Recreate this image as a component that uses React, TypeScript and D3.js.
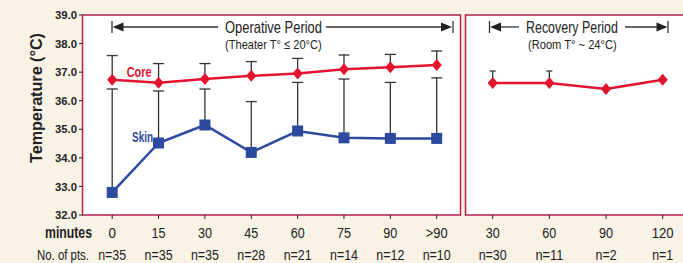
import React from "react";
import * as d3 from "d3";

const operMinutes = ["0", "15", "30", "45", "60", "75", "90", ">90"];
const operN = ["n=35", "n=35", "n=35", "n=28", "n=21", "n=14", "n=12", "n=10"];
const coreOper = [36.73, 36.63, 36.76, 36.87, 36.95, 37.1, 37.17, 37.25];
const coreOperUpper = [37.58, 37.3, 37.3, 37.37, 37.48, 37.6, 37.62, 37.74];
const skinOper = [32.79, 34.52, 35.15, 34.19, 34.94, 34.7, 34.68, 34.68];
const skinOperUpper = [36.41, 36.34, 36.41, 35.97, 36.64, 36.76, 36.64, 36.8];

const recMinutes = ["30", "60", "90", "120"];
const recN = ["n=30", "n=11", "n=2", "n=1"];
const coreRec = [36.62, 36.62, 36.41, 36.73];
const coreRecUpper: (number | null)[] = [37.04, 37.04, null, null];

const yTicks = [32, 33, 34, 35, 36, 37, 38, 39];

const BG = "#f9f3e6";
const RED = "#e2142f";
const BLUE = "#2c4a9e";
const BORDER = "#b3214a";
const DARK = "#222";
const FONT_NAME = "Liberation Sans";
const FONT = "'Liberation Sans', Arial, sans-serif";

let measureCtx: CanvasRenderingContext2D | null = null;
function measure(s: string, size: number, weight: string) {
  if (!measureCtx) {
    const c = document.createElement("canvas");
    measureCtx = c.getContext("2d");
  }
  if (!measureCtx) return s.length * size * 0.55;
  measureCtx.font = `${weight} ${size}px '${FONT_NAME}'`;
  return measureCtx.measureText(s).width;
}

// condensed text: horizontally scaled to a given width
function T(props: any) {
  const { w, x, y, children, fontSize, fontWeight = "normal", ...rest } = props;
  const nat = measure(String(children), fontSize, fontWeight);
  const sx = nat > 0 ? w / nat : 1;
  return (
    <text
      {...rest}
      transform={`translate(${x},${y}) scale(${sx},1)`}
      fontSize={fontSize}
      fontWeight={fontWeight}
    >
      {children}
    </text>
  );
}

export default function App() {
  const y = d3.scaleLinear().domain([32, 39]).range([215, 15]);
  const xo = d3.scalePoint<string>().domain(operMinutes).range([112.2, 436.7]);
  const xr = d3.scalePoint<string>().domain(recMinutes).range([492.7, 662.7]);

  const line = d3.line<[number, number]>().x((d) => d[0]).y((d) => d[1]);
  const corePts = operMinutes.map((m, i) => [xo(m)!, y(coreOper[i])] as [number, number]);
  const skinPts = operMinutes.map((m, i) => [xo(m)!, y(skinOper[i])] as [number, number]);
  const recPts = recMinutes.map((m, i) => [xr(m)!, y(coreRec[i])] as [number, number]);

  const diamond = (cx: number, cy: number, r = 6) =>
    `M${cx},${cy - r}L${cx + r * 0.85},${cy}L${cx},${cy + r}L${cx - r * 0.85},${cy}Z`;

  const arrowHeadLeft = (x: number, yy: number) => `M${x},${yy}L${x + 11},${yy - 4.5}L${x + 11},${yy + 4.5}Z`;
  const arrowHeadRight = (x: number, yy: number) => `M${x},${yy}L${x - 11},${yy - 4.5}L${x - 11},${yy + 4.5}Z`;

  const nW = (s: string) => (s.length === 4 ? 28 : 21);
  const mW = (s: string) => (s.length === 1 ? 7.5 : s.length === 2 ? 14 : 22);

  return (
    <svg
      width={683}
      height={263}
      style={{ position: "absolute", left: 0, top: 0, background: BG }}
      fontFamily={FONT}
    >
      <rect x={0} y={0} width={683} height={263} fill={BG} />
      {/* panels */}
      <rect x={82.5} y={15} width={378} height={200} fill="#fff" stroke={BORDER} strokeWidth={1.5} />
      <rect x={465.5} y={15} width={240} height={200} fill="#fff" stroke={BORDER} strokeWidth={1.5} />

      {/* y axis ticks */}
      {yTicks.map((t) => (
        <g key={t}>
          <line x1={79} x2={82.5} y1={y(t)} y2={y(t)} stroke={DARK} strokeWidth={1} />
          <T x={77} y={y(t) + 4.1} textAnchor="end" fontSize={11.5} fontWeight="bold" fill={DARK} w={22}>
            {t.toFixed(1)}
          </T>
        </g>
      ))}
      <text
        transform={`translate(41.5,98) rotate(-90)`}
        textAnchor="middle"
        fontSize={17}
        fontWeight="bold"
        fill={DARK}
        textLength={130}
        lengthAdjust="spacingAndGlyphs"
      >
        Temperature (°C)
      </text>

      {/* x ticks and labels */}
      {operMinutes.map((m, i) => (
        <g key={m}>
          <line x1={xo(m)} x2={xo(m)} y1={215} y2={219} stroke={DARK} strokeWidth={1} />
          <T x={xo(m)} y={237.5} textAnchor="middle" fontSize={15.5} fill={DARK} w={mW(m)}>
            {m}
          </T>
          <T x={xo(m)} y={259.5} textAnchor="middle" fontSize={14.5} fill={DARK} w={nW(operN[i])}>
            {operN[i]}
          </T>
        </g>
      ))}
      {recMinutes.map((m, i) => (
        <g key={m}>
          <line x1={xr(m)} x2={xr(m)} y1={215} y2={219} stroke={DARK} strokeWidth={1} />
          <T x={xr(m)} y={237.5} textAnchor="middle" fontSize={15.5} fill={DARK} w={mW(m)}>
            {m}
          </T>
          <T x={xr(m)} y={259.5} textAnchor="middle" fontSize={14.5} fill={DARK} w={nW(recN[i])}>
            {recN[i]}
          </T>
        </g>
      ))}
      <T x={45} y={238} fontSize={16} fontWeight="bold" fill={DARK} w={47}>
        minutes
      </T>
      <T x={37} y={259.5} fontSize={14.5} fill={DARK} w={52}>
        No. of pts.
      </T>

      {/* headers */}
      <g stroke="#333" strokeWidth={1.3}>
        <line x1={112} x2={112} y1={21} y2={33} />
        <line x1={118} x2={218} y1={27} y2={27} />
        <line x1={326} x2={446} y1={27} y2={27} />
        <line x1={453} x2={453} y1={21} y2={33} />
        <line x1={489.5} x2={489.5} y1={21} y2={33} />
        <line x1={495} x2={519} y1={27} y2={27} />
        <line x1={625} x2={662} y1={27} y2={27} />
        <line x1={668} x2={668} y1={21} y2={33} />
      </g>
      <g fill="#222">
        <path d={arrowHeadLeft(112.5, 27)} />
        <path d={arrowHeadRight(452, 27)} />
        <path d={arrowHeadLeft(490, 27)} />
        <path d={arrowHeadRight(667.5, 27)} />
      </g>
      <T x={225} y={32.5} fontSize={17} fill={DARK} w={97}>
        Operative Period
      </T>
      <T x={225} y={49} fontSize={13.5} fill={DARK} w={97}>
        (Theater T° ≤ 20°C)
      </T>
      <T x={526} y={32.5} fontSize={17} fill={DARK} w={92}>
        Recovery Period
      </T>
      <T x={528} y={49} fontSize={13.5} fill={DARK} w={89}>
        (Room T° ~ 24°C)
      </T>

      {/* error bars */}
      <g stroke="#333" strokeWidth={1.3}>
        {operMinutes.map((m, i) => {
          const cx = xo(m)!;
          return (
            <g key={m}>
              <line x1={cx} x2={cx} y1={y(coreOper[i])} y2={y(coreOperUpper[i])} />
              <line x1={cx - 5.5} x2={cx + 5.5} y1={y(coreOperUpper[i])} y2={y(coreOperUpper[i])} />
              <line x1={cx} x2={cx} y1={y(skinOper[i])} y2={y(skinOperUpper[i])} />
              <line x1={cx - 5.5} x2={cx + 5.5} y1={y(skinOperUpper[i])} y2={y(skinOperUpper[i])} />
            </g>
          );
        })}
        {recMinutes.map((m, i) => {
          const u = coreRecUpper[i];
          if (u == null) return null;
          const cx = xr(m)!;
          return (
            <g key={m}>
              <line x1={cx} x2={cx} y1={y(coreRec[i])} y2={y(u)} />
              <line x1={cx - 3} x2={cx + 3} y1={y(u)} y2={y(u)} />
            </g>
          );
        })}
      </g>

      {/* series lines */}
      <path d={line(skinPts)!} fill="none" stroke={BLUE} strokeWidth={2.5} />
      <path d={line(corePts)!} fill="none" stroke={RED} strokeWidth={2.5} />
      <path d={line(recPts)!} fill="none" stroke={RED} strokeWidth={2.5} />

      {skinPts.map((p, i) => (
        <rect key={i} x={p[0] - 5.5} y={p[1] - 5.5} width={11} height={11} fill={BLUE} />
      ))}
      {corePts.map((p, i) => (
        <path key={i} d={diamond(p[0], p[1])} fill={RED} />
      ))}
      {recPts.map((p, i) => (
        <path key={i} d={diamond(p[0], p[1])} fill={RED} />
      ))}

      <T x={126.7} y={77.4} fontSize={15} fontWeight="bold" fill={RED} w={25}>
        Core
      </T>
      <T x={132} y={142.2} fontSize={14.5} fontWeight="bold" fill={BLUE} w={21}>
        Skin
      </T>
    </svg>
  );
}
